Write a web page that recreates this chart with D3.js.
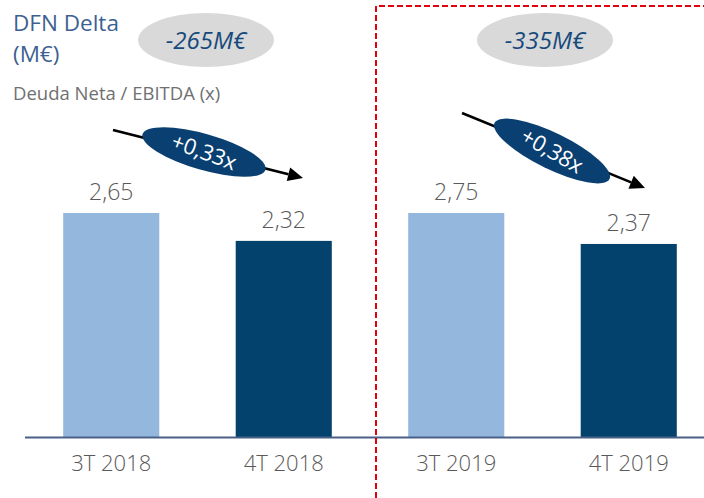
<!DOCTYPE html>
<html>
<head>
<meta charset="utf-8">
<script src="https://cdn.jsdelivr.net/npm/d3@7/dist/d3.min.js"></script>
<style>
  html, body { margin: 0; padding: 0; background: #fff; }
  svg { display: block; font-family: "Open Sans", "Noto Sans", sans-serif; }
</style>
</head>
<body>
<svg id="chart" width="704" height="498"></svg>
<script>
// ---- data ----
const categories = ["3T 2018", "4T 2018", "3T 2019", "4T 2019"];
const values = [2.65, 2.32, 2.75, 2.37];
const sections = [0, 0, 1, 1];
const deltaLabels = ["-265M€", "-335M€"];
const changeLabels = ["+0,33x", "+0,38x"];
const titleLines = ["DFN Delta", "(M€)"];
const subtitle = "Deuda Neta / EBITDA (x)";

// ---- setup ----
const W = 704, H = 498;
const svg = d3.select("#chart");
const baseY = 437, topY = 213;
const lightBar = "#94B7DE", darkBar = "#03426C";
const locale = d3.formatLocale({ decimal: ",", thousands: ".", grouping: [3], currency: ["", "€"] });
const fmt = locale.format(".2f");

const x = d3.scaleBand().domain(categories).range([25, 715]).paddingInner(0.443).paddingOuter(0.2215);

// each section has its own scale (max of section reaches same height)
const yScales = [0, 1].map(s => {
  const mx = d3.max(values.filter((v, i) => sections[i] === s));
  return d3.scaleLinear().domain([0, mx]).range([baseY, topY]);
});

// ---- bars ----
svg.append("g").selectAll("rect").data(values).join("rect")
  .attr("x", (d, i) => x(categories[i]))
  .attr("width", x.bandwidth())
  .attr("y", (d, i) => yScales[sections[i]](d))
  .attr("height", (d, i) => baseY - yScales[sections[i]](d))
  .attr("fill", (d, i) => i % 2 === 0 ? lightBar : darkBar);

// value labels
svg.append("g").selectAll("text").data(values).join("text")
  .attr("x", (d, i) => x(categories[i]) + x.bandwidth() / 2)
  .attr("y", (d, i) => yScales[sections[i]](d) - 13)
  .attr("text-anchor", "middle")
  .attr("font-size", 23)
  .attr("font-weight", 300)
  .attr("fill", "#595959")
  .text(d => fmt(d));

// ---- axis ----
const xAxis = d3.axisBottom(x).tickSize(0).tickPadding(18);
const ax = svg.append("g").attr("transform", `translate(0,${baseY})`).call(xAxis);
ax.select(".domain").remove();
ax.selectAll("text")
  .attr("font-family", "'Open Sans', sans-serif")
  .attr("font-size", 22)
  .attr("font-weight", 300)
  .attr("fill", "#595959")
  .attr("dy", "0.71em");
svg.append("line")
  .attr("x1", 25).attr("x2", W).attr("y1", baseY + 0.5).attr("y2", baseY + 0.5)
  .attr("stroke", "#4B6088").attr("stroke-width", 2);

// ---- red dashed separator ----
const sepX = 376, sepY = 6;
svg.append("path")
  .attr("d", `M${sepX},${H} L${sepX},${sepY} L${W},${sepY}`)
  .attr("fill", "none")
  .attr("stroke", "#E3000F")
  .attr("stroke-width", 2)
  .attr("stroke-dasharray", "6,3");

// ---- titles ----
const title = svg.append("text").attr("x", 13).attr("fill", "#3D5F92").attr("font-size", 22.5);
title.selectAll("tspan").data(titleLines).join("tspan")
  .attr("x", 13).attr("y", (d, i) => 31 + i * 31).text(d => d);
svg.append("text").attr("x", 13).attr("y", 100)
  .attr("font-size", 18.5).attr("fill", "#707070").text(subtitle);

// ---- delta ellipses ----
const deltaPos = [[206, 40], [545, 40]];
deltaLabels.forEach((lab, s) => {
  const [cx, cy] = deltaPos[s];
  svg.append("ellipse").attr("cx", cx).attr("cy", cy).attr("rx", 68).attr("ry", 27).attr("fill", "#D9D9D9");
  svg.append("text").attr("x", cx).attr("y", cy + 8.5)
    .attr("text-anchor", "middle").attr("font-size", 24).attr("font-style", "italic")
    .attr("fill", "#174A7C").text(lab);
});

// ---- change arrows ----
const arrows = [
  { x1: 113, y1: 130, x2: 303, y2: 178, cx: 204, cy: 152, rot: 16, trot: 20 },
  { x1: 462, y1: 113, x2: 645, y2: 188, cx: 552, cy: 151, rot: 26, trot: 30 }
];
arrows.forEach((a, s) => {
  const ang = Math.atan2(a.y2 - a.y1, a.x2 - a.x1);
  const hl = 15, hw = 7;
  const bx = a.x2 - hl * Math.cos(ang), by = a.y2 - hl * Math.sin(ang);
  svg.append("line").attr("x1", a.x1).attr("y1", a.y1).attr("x2", bx).attr("y2", by)
    .attr("stroke", "#000").attr("stroke-width", 2.5);
  const px = -Math.sin(ang) * hw, py = Math.cos(ang) * hw;
  svg.append("path")
    .attr("d", `M${a.x2},${a.y2} L${bx + px},${by + py} L${bx - px},${by - py} Z`)
    .attr("fill", "#000");
  svg.append("ellipse").attr("cx", 0).attr("cy", 0).attr("rx", 64).attr("ry", 18)
    .attr("transform", `translate(${a.cx},${a.cy}) rotate(${a.rot})`)
    .attr("fill", "#0A3F72");
  svg.append("text").attr("x", 0).attr("y", 7.5)
    .attr("transform", `translate(${a.cx},${a.cy}) rotate(${a.trot})`)
    .attr("text-anchor", "middle").attr("font-size", 22).attr("fill", "#fff")
    .text(changeLabels[s]);
});
</script>
</body>
</html>
